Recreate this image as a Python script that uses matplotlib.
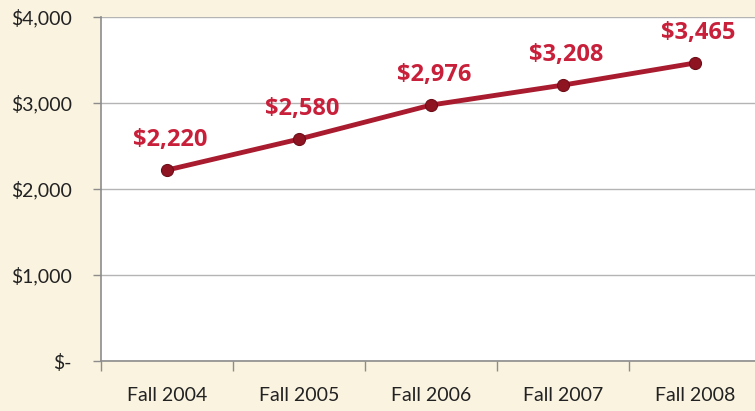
import numpy as np
import matplotlib.pyplot as plt
from matplotlib.ticker import FixedLocator

plt.rcParams['font.family'] = ['Lato', 'DejaVu Sans']

categories = ["Fall 2004", "Fall 2005", "Fall 2006", "Fall 2007", "Fall 2008"]
values = [2220, 2580, 2976, 3208, 3465]
y_ticks = [0, 1000, 2000, 3000, 4000]
y_tick_labels = ["$-", "$1,000", "$2,000", "$3,000", "$4,000"]

BG = "#FAF3E0"
LINE = "#A91B2E"
LABEL = "#C8203A"
GRID = "#B4B4B4"

fig = plt.figure(figsize=(7.55, 4.11), dpi=100, facecolor=BG)
ax = fig.add_axes([101 / 755, 50 / 411, 660 / 755, 344 / 411])
ax.set_facecolor("white")

x = np.arange(len(categories))
ax.plot(x, values, color=LINE, lw=3.5, zorder=3, solid_capstyle="round")
ax.scatter(x, values, s=75, color="#8E1422", edgecolor="#6E0E18", lw=0.8, zorder=4)

for xi, v in zip(x, values):
    ax.annotate(f"${v:,}", (xi, v), xytext=(2, 13), textcoords="offset points",
                ha="center", va="bottom", color=LABEL, fontsize=17, fontweight="bold",
                family=["Open Sans", "DejaVu Sans"])

ax.set_xlim(-0.5, 4.5)
ax.set_ylim(0, 4000)

ax.set_yticks(y_ticks)
ax.set_yticklabels(y_tick_labels)
ax.grid(axis="y", color=GRID, lw=1)
ax.set_axisbelow(True)

ax.set_xticks(x)
ax.set_xticklabels(categories)
ax.xaxis.set_minor_locator(FixedLocator(np.arange(-0.5, 5, 1)))
ax.tick_params(axis="x", which="major", length=0, pad=19, labelsize=14, colors="#222222")
ax.tick_params(axis="x", which="minor", length=7, color="#8C8C8C", width=1)
ax.tick_params(axis="y", length=6, color="#8C8C8C", width=1, pad=15, labelsize=14,
               labelcolor="#222222")

for s in ["top", "right"]:
    ax.spines[s].set_visible(False)
for s in ["left", "bottom"]:
    ax.spines[s].set_color("#8C8C8C")
    ax.spines[s].set_linewidth(1.2)

fig.savefig("out.png", dpi=100, facecolor=BG)
